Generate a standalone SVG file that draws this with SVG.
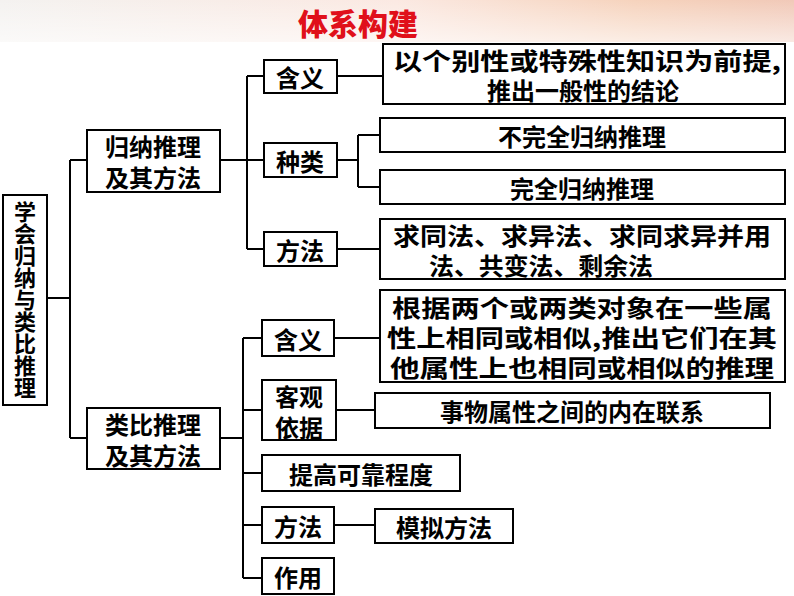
<svg xmlns="http://www.w3.org/2000/svg" width="794" height="596" viewBox="0 0 794 596">
<defs>
<linearGradient id="hd" x1="0" y1="0" x2="1" y2="0">
<stop offset="0" stop-color="#f4f2f0"/><stop offset="0.5" stop-color="#fbe9e2"/><stop offset="0.8" stop-color="#f6d3bd"/><stop offset="1" stop-color="#f1c9b8"/>
</linearGradient>
<linearGradient id="hv" x1="0" y1="0" x2="0" y2="1">
<stop offset="0" stop-color="#fff" stop-opacity="0"/><stop offset="1" stop-color="#fff" stop-opacity="0.6"/>
</linearGradient>
</defs>
<style>
rect.b{fill:#fff;stroke:#000;stroke-width:2}
text{font-family:"Noto Sans CJK SC","Noto Sans CJK TC",sans-serif;font-size:24px;font-weight:700;fill:#000;text-anchor:middle;dominant-baseline:central}
#conn line{stroke:#000;stroke-width:2}
</style>
<rect width="794" height="596" fill="#fff"/>
<rect width="794" height="42" fill="url(#hd)"/>
<rect width="794" height="42" fill="url(#hv)"/>
<text x="358" y="22" style="fill:#e0101a;font-size:30px;font-weight:900">体系构建</text>
<g id="conn">
<line x1="47" y1="298" x2="70" y2="298"/>
<line x1="70" y1="160" x2="70" y2="438"/>
<line x1="70" y1="160" x2="87" y2="160"/>
<line x1="70" y1="438" x2="87" y2="438"/>
<line x1="220" y1="160" x2="247" y2="160"/>
<line x1="247" y1="76" x2="247" y2="249"/>
<line x1="247" y1="76" x2="264" y2="76"/>
<line x1="247" y1="160" x2="264" y2="160"/>
<line x1="247" y1="249" x2="264" y2="249"/>
<line x1="337" y1="76" x2="383" y2="76"/>
<line x1="337" y1="160" x2="358" y2="160"/>
<line x1="358" y1="135" x2="358" y2="187"/>
<line x1="358" y1="135" x2="380" y2="135"/>
<line x1="358" y1="187" x2="380" y2="187"/>
<line x1="337" y1="249" x2="380" y2="249"/>
<line x1="220" y1="438" x2="243" y2="438"/>
<line x1="243" y1="338" x2="243" y2="578"/>
<line x1="243" y1="338" x2="262" y2="338"/>
<line x1="243" y1="410" x2="262" y2="410"/>
<line x1="243" y1="473" x2="262" y2="473"/>
<line x1="243" y1="525" x2="262" y2="525"/>
<line x1="243" y1="578" x2="262" y2="578"/>
<line x1="334" y1="338" x2="380" y2="338"/>
<line x1="336" y1="410" x2="375" y2="410"/>
<line x1="334" y1="525" x2="375" y2="525"/>
</g>
<g id="root"><rect class="b" x="3" y="195" width="44" height="210"/>
<text x="25" y="300" style="writing-mode:vertical-rl;font-size:22px">学会归纳与类比推理</text></g>
<g id="gn"><rect class="b" x="87" y="130" width="133" height="62"/><text x="153" y="145">归纳推理</text><text x="153" y="176">及其方法</text></g>
<g id="gn1"><rect class="b" x="264" y="60" width="73" height="33"/><text x="300" y="76">含义</text></g>
<g id="gn1d"><rect class="b" x="383" y="44" width="402" height="60"/><text x="587" y="59" textLength="388" lengthAdjust="spacingAndGlyphs">以个别性或特殊性知识为前提,</text><text x="583" y="89">推出一般性的结论</text></g>
<g id="gn2"><rect class="b" x="264" y="143" width="73" height="34"/><text x="300" y="160">种类</text></g>
<g id="gn2a"><rect class="b" x="380" y="118" width="405" height="34"/><text x="582" y="135">不完全归纳推理</text></g>
<g id="gn2b"><rect class="b" x="380" y="170" width="405" height="34"/><text x="582" y="187">完全归纳推理</text></g>
<g id="gn3"><rect class="b" x="264" y="232" width="73" height="34"/><text x="300" y="249">方法</text></g>
<g id="gn3d"><rect class="b" x="380" y="219" width="405" height="60"/><text x="582" y="234" textLength="378" lengthAdjust="spacingAndGlyphs">求同法、求异法、求同求异并用</text><text x="541" y="264" textLength="224" lengthAdjust="spacingAndGlyphs">法、共变法、剩余法</text></g>
<g id="lb"><rect class="b" x="87" y="408" width="133" height="61"/><text x="153" y="423">类比推理</text><text x="153" y="454">及其方法</text></g>
<g id="lb1"><rect class="b" x="262" y="320" width="72" height="36"/><text x="298" y="338">含义</text></g>
<g id="lb1d"><rect class="b" x="380" y="290" width="405" height="92"/><text x="582" y="306" textLength="380" lengthAdjust="spacingAndGlyphs">根据两个或两类对象在一些属</text><text x="582" y="336" textLength="390" lengthAdjust="spacingAndGlyphs">性上相同或相似,推出它们在其</text><text x="582" y="366" textLength="384" lengthAdjust="spacingAndGlyphs">他属性上也相同或相似的推理</text></g>
<g id="lb2"><rect class="b" x="262" y="380" width="74" height="60"/><text x="299" y="395">客观</text><text x="299" y="426">依据</text></g>
<g id="lb2d"><rect class="b" x="375" y="393" width="395" height="35"/><text x="572" y="410">事物属性之间的内在联系</text></g>
<g id="lb3"><rect class="b" x="262" y="455" width="198" height="36"/><text x="361" y="473">提高可靠程度</text></g>
<g id="lb4"><rect class="b" x="262" y="507" width="72" height="36"/><text x="298" y="525">方法</text></g>
<g id="lb4d"><rect class="b" x="375" y="509" width="138" height="34"/><text x="444" y="526">模拟方法</text></g>
<g id="lb5"><rect class="b" x="262" y="558" width="72" height="36"/><text x="298" y="576">作用</text></g>
</svg>
